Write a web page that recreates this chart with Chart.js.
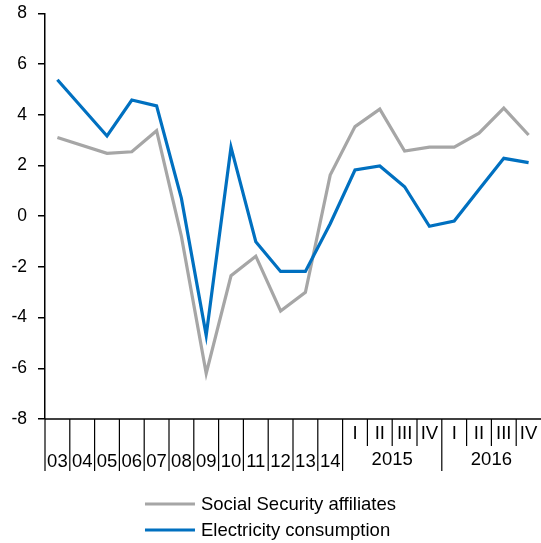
<!DOCTYPE html>
<html>
<head>
<meta charset="utf-8">
<script src="https://cdn.jsdelivr.net/npm/chart.js@4/dist/chart.umd.min.js"></script>
<style>
  html, body { margin: 0; padding: 0; background: #fff; }
  #wrap { position: relative; width: 541px; height: 543px; }
</style>
</head>
<body>
<div id="wrap"><canvas id="grafico"></canvas></div>
<script>
// categories: years, then quarters of 2015 and 2016
const years = ["03", "04", "05", "06", "07", "08", "09", "10", "11", "12", "13", "14"];
const quarters = ["I", "II", "III", "IV"];
const quarterYears = ["2015", "2016"];
const labels = years.concat(quarters, quarters);

const afiliados = [3.1, null, 2.48, 2.54, 3.37, -0.8, -6.2, -2.35, -1.58, -3.74, -3.0, 1.62,
                   3.53, 4.22, 2.57, 2.72, 2.72, 3.27, 4.26, 3.2];
const electricidad = [5.38, null, 3.16, 4.58, 4.35, 0.7, -4.7, 2.72, -1.01, -2.18, -2.18, -0.3,
                      1.82, 1.98, 1.16, -0.4, -0.19, 1.05, 2.28, 2.11];

const yTicks = [-8, -6, -4, -2, 0, 2, 4, 6, 8];

const fuente = "'Liberation Sans', Arial, sans-serif";

// draws the two-level x axis and the legend
const ejeYLeyenda = {
    id: "ejeYLeyenda",
    afterDraw(chart) {
        const ctx = chart.ctx;
        const x = chart.scales.x;
        const area = chart.chartArea;
        const half = (x.getPixelForValue(1) - x.getPixelForValue(0)) / 2;
        const base = area.bottom;

        ctx.save();
        ctx.strokeStyle = "#000";
        ctx.lineWidth = 1.5;
        ctx.beginPath();
        ctx.moveTo(area.left, base);
        ctx.lineTo(area.right, base);
        ctx.stroke();

        ctx.lineWidth = 1.2;
        labels.forEach(function (lab, i) {
            const bx = x.getPixelForValue(i) - half;
            const q = i - years.length;
            const largo = q <= 0 || q % quarters.length === 0;
            ctx.beginPath();
            ctx.moveTo(bx, base);
            ctx.lineTo(bx, base + (largo ? 52 : 27));
            ctx.stroke();
        });

        ctx.fillStyle = "#000";
        ctx.textAlign = "center";
        ctx.textBaseline = "middle";
        ctx.font = "18.5px " + fuente;
        years.forEach(function (lab, i) {
            ctx.fillText(lab, x.getPixelForValue(i), base + 43);
        });
        quarterYears.forEach(function (yr, k) {
            const i0 = years.length + k * quarters.length;
            const i1 = i0 + quarters.length - 1;
            quarters.forEach(function (q, j) {
                ctx.fillText(q, x.getPixelForValue(i0 + j), base + 15);
            });
            ctx.fillText(yr, (x.getPixelForValue(i0) + x.getPixelForValue(i1)) / 2, base + 41);
        });

        // legend
        const ds = chart.data.datasets;
        ctx.font = "18.5px " + fuente;
        ctx.textAlign = "left";
        let maxw = 0;
        ds.forEach(function (d) { maxw = Math.max(maxw, ctx.measureText(d.label).width); });
        const total = 50 + 6 + maxw;
        const lx = (chart.width - total) / 2;
        ds.forEach(function (d, k) {
            const ly = 504 + k * 26;
            ctx.strokeStyle = d.borderColor;
            ctx.lineWidth = 3;
            ctx.beginPath();
            ctx.moveTo(lx, ly);
            ctx.lineTo(lx + 50, ly);
            ctx.stroke();
            ctx.fillText(d.label, lx + 56, ly + 1);
        });
        ctx.restore();
    }
};

document.addEventListener("DOMContentLoaded", function () {
    const graficoCanvas = document.getElementById("grafico");

    const data = {
        labels: labels,
        datasets: [
            {
                label: "Social Security affiliates",
                data: afiliados,
                borderColor: "#A6A6A6",
                backgroundColor: "#A6A6A6",
                borderWidth: 3.2,
                order: 1,
            },
            {
                label: "Electricity consumption",
                data: electricidad,
                borderColor: "#0070C0",
                backgroundColor: "#0070C0",
                borderWidth: 3.2,
                order: 0,
            },
        ],
    };

    const config = {
        type: "line",
        data: data,
        options: {
            responsive: false,
            animation: false,
            spanGaps: true,
            elements: {
                point: { radius: 0 },
                line: { tension: 0, borderJoinStyle: "miter" },
            },
            layout: {
                padding: { top: 13.3, bottom: 124, left: 0, right: 0 },
            },
            plugins: {
                legend: { display: false },
                tooltip: { enabled: false },
            },
            scales: {
                x: {
                    display: false,
                    offset: true,
                },
                y: {
                    min: -8,
                    max: 8,
                    afterFit: function (scale) {
                        scale.width = 45;
                        scale.paddingTop = 0;
                        scale.paddingBottom = 0;
                    },
                    afterBuildTicks: function (scale) {
                        scale.ticks = yTicks.map(function (v) { return { value: v }; });
                    },
                    grid: {
                        drawOnChartArea: false,
                        color: "#000",
                        lineWidth: 1.5,
                        tickLength: 7,
                    },
                    border: { display: true, color: "#000", width: 1.5 },
                    ticks: {
                        color: "#000",
                        padding: 11,
                        font: { family: fuente, size: 17.5 },
                    },
                },
            },
        },
        plugins: [ejeYLeyenda],
    };

    graficoCanvas.width = 541;
    graficoCanvas.height = 543;
    new Chart(graficoCanvas, config);
});
</script>
</body>
</html>
